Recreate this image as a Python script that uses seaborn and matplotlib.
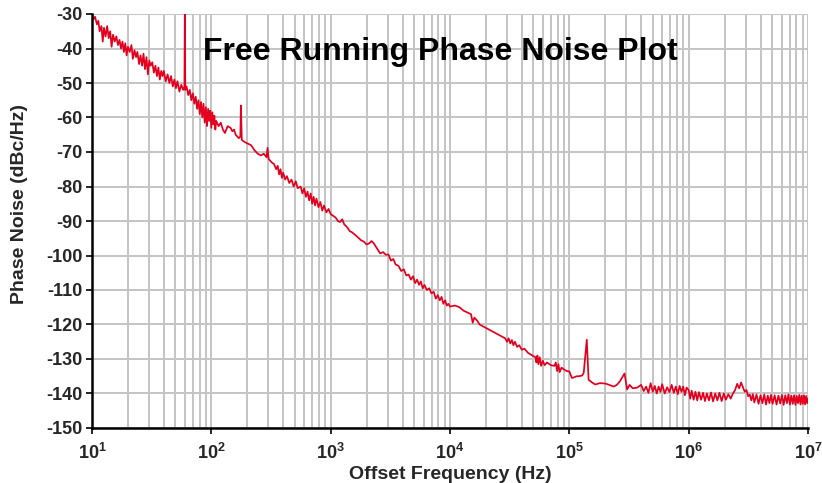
import matplotlib
matplotlib.use("Agg")
import matplotlib.pyplot as plt
import numpy as np
import pandas as pd
import seaborn as sns
from matplotlib.ticker import FixedLocator, NullFormatter

# ---------------- data ----------------
freq_hz = [
    10, 10.3, 10.6, 11, 11.3, 11.6, 12, 12.3, 12.6, 13, 13.4, 13.8, 14.2, 14.6, 15, 15.5,
    16, 16.5, 17, 17.5, 18, 18.5, 19, 19.5, 20, 20.7, 21.4, 22, 22.7, 23.4, 24, 24.8,
    25.5, 26.3, 27, 27.8, 28.6, 29.4, 30.2, 31, 32, 33, 34, 35, 36, 37, 38, 39,
    40, 41.5, 43, 44.5, 46, 47.5, 49, 50.5, 52, 54, 56, 58, 59.5, 60, 60.5, 62,
    64, 66, 68, 70, 72, 74, 76, 78, 80, 82, 84, 86, 88, 90, 92, 94,
    96, 98, 100, 102, 104, 106, 108, 110, 115, 120, 125, 130, 137, 145, 150, 155,
    160, 165, 170, 175, 177, 180, 188, 200, 215, 230, 245, 260, 275, 290, 296, 302,
    320, 335, 350, 360, 370, 380, 390, 400, 415, 430, 450, 470, 490, 510, 530, 560,
    580, 600, 620, 640, 660, 680, 700, 720, 740, 760, 790, 820, 850, 880, 920, 960,
    1000, 1050, 1100, 1150, 1200, 1250, 1300, 1350, 1400, 1450, 1500, 1600, 1700, 1800, 1900, 2000,
    2100, 2200, 2300, 2450, 2600, 2750, 2900, 3050, 3200, 3350, 3500, 3700, 3900, 4100, 4300, 4500,
    4700, 4900, 5100, 5300, 5500, 5700, 5900, 6100, 6400, 6700, 7000, 7300, 7600, 7900, 8200, 8500,
    8800, 9100, 9400, 9700, 10000, 11000, 12000, 13000, 14000, 15000, 15500, 16000, 17000, 17700, 29000, 30000,
    31000, 32000, 33000, 34000, 35000, 36500, 38000, 40000, 42000, 45000, 48000, 52000, 53000, 54000, 55000, 56500,
    58000, 60000, 62000, 65000, 70000, 75000, 77000, 79000, 81000, 83000, 86000, 90000, 95000, 100000, 105000, 110000,
    115000, 120000, 128000, 132000, 140000, 145000, 155000, 165000, 180000, 200000, 220000, 235000, 250000, 265000, 290000, 305000,
    320000, 340000, 370000, 400000, 420000, 440000, 460000, 480000, 500000, 520000, 540000, 560000, 580000, 600000, 630000, 660000,
    690000, 720000, 750000, 780000, 810000, 840000, 870000, 900000, 930000, 960000,
]

phase_noise_dbc = [
    -30, -31.5, -30.8, -33, -32, -35, -33.5, -38, -34, -36.5, -33.5, -37, -35, -39.5, -36, -38,
    -36.5, -39, -37.5, -40, -38, -41, -38.5, -42, -39.5, -41, -39, -43, -40.5, -42.5, -41, -44.5,
    -42, -45, -41.5, -46, -42.5, -47.5, -43.5, -45, -44, -47, -45, -48, -45.5, -49, -46.5, -48,
    -46.5, -49.5, -47.5, -50, -48, -51, -49, -51.5, -49.5, -52.5, -50.5, -52, -51, -28, -52, -51,
    -53.5, -52, -55, -53, -56, -54, -57.5, -55, -59, -55.5, -60, -56, -61.5, -57, -62.5, -57.5,
    -61, -58, -63, -58.5, -62, -59.5, -63.5, -61, -62.5, -61.5, -63.5, -64.5, -62.5, -63, -64, -63.5,
    -65, -65.5, -66, -65.5, -56.5, -66.5, -67, -67.5, -68, -69.5, -70.5, -71, -70.5, -71.5, -68.8, -72,
    -73, -73.5, -75, -74, -76.5, -75, -77.5, -76, -78, -77, -79, -78, -80, -78.5, -80.5, -80,
    -82, -80.5, -83, -81.5, -84, -82, -85, -83, -85.5, -83.5, -86, -84.5, -87, -85.5, -87.5, -86.5,
    -88, -88.5, -89, -90, -90.3, -89.5, -91, -91.5, -92.2, -93, -93.2, -94, -94.8, -95.6, -96, -96.8,
    -96.5, -95.8, -96.5, -98, -99.4, -99, -99.8, -99.7, -101.5, -101, -102.6, -103, -104.5, -104, -105.8, -105.5,
    -107, -106, -108, -107, -108.5, -107.5, -109.5, -108.5, -110, -109.5, -111, -110.5, -112.5, -111.5, -113, -112,
    -114, -113, -114.5, -114, -114.8, -114.5, -115, -116, -116.5, -117, -119.5, -118, -119, -120, -124, -125,
    -124, -125.5, -124.5, -126, -125, -126.5, -126, -127.3, -127, -128.2, -128.8, -129.5, -131, -129, -131.5, -129.5,
    -132, -130.5, -131.8, -131, -131.8, -132, -131, -133.5, -131.5, -133.8, -132.5, -133, -133.5, -133.6, -135.5, -135.3,
    -135, -135, -134.8, -134, -124.4, -136, -136.8, -137.4, -137, -137.1, -137.6, -138, -137.5, -136.5, -134.2, -138.8,
    -137.5, -138.5, -138.3, -137.5, -139.3, -138, -139.8, -137, -139.5, -137.8, -140, -138, -139.5, -137.3, -140, -138.2,
    -139.6, -137.5, -139.8, -138, -140.2, -137.8, -139.5, -138, -140.5, -138.3,
]

# noise floor above 1 MHz, including the bump near 2.7 MHz
floor_freq_hz = [
    1000000, 1030000, 1060000, 1100000, 1140000, 1180000, 1220000, 1270000, 1320000, 1370000,
    1420000, 1480000, 1540000, 1600000, 1670000, 1740000, 1810000, 1890000, 1970000, 2050000,
    2150000, 2250000, 2350000, 2450000, 2550000, 2650000, 2750000, 2850000, 2950000, 3050000,
    3150000, 3250000, 3350000, 3450000, 3550000, 3700000, 3850000, 4000000, 4150000, 4300000,
    4450000, 4600000, 4750000, 4900000, 5050000, 5250000, 5450000, 5650000, 5850000, 6050000,
    6250000, 6450000, 6650000, 6850000, 7050000, 7250000, 7450000, 7650000, 7850000, 8050000,
    8250000, 8450000, 8650000, 8850000, 9050000, 9250000, 9450000, 9650000, 9850000, 10000000,
]
floor_pn_dbc = [
    -139, -141.5, -139.2, -141.8, -139.5, -142, -139.6, -141.8, -139.8, -142.2,
    -140, -142, -139.7, -142.3, -140, -142, -139.8, -142.2, -140, -141.8,
    -140.2, -141.5, -140, -139, -137.2, -138.5, -136.8, -138.2, -139.5, -139,
    -140.8, -140.3, -142, -140.2, -142.6, -140.3, -143, -140.5, -142.8, -140.3,
    -143.2, -140.6, -142.8, -140.4, -143, -140.5, -143.2, -140.6, -142.9, -140.4,
    -143.3, -140.5, -142.8, -140.3, -143.2, -140.6, -143, -140.5, -143.3, -140.7,
    -142.8, -140.4, -143.2, -140.6, -143, -140.5, -143.2, -140.7, -142.8, -141.5,
]

y_ticks = list(range(-150, -29, 10))
x_decades = [1, 2, 3, 4, 5, 6, 7]
title_text = "Free Running Phase Noise Plot"
x_label = "Offset Frequency (Hz)"
y_label = "Phase Noise (dBc/Hz)"

df = pd.DataFrame({"freq": freq_hz + floor_freq_hz,
                   "pn": phase_noise_dbc + floor_pn_dbc})

# ---------------- style ----------------
sns.set_theme(style="white")
plt.rcParams["font.family"] = ["Liberation Sans", "DejaVu Sans"]
plt.rcParams["mathtext.fontset"] = "custom"
plt.rcParams["mathtext.rm"] = "Liberation Sans"
plt.rcParams["mathtext.bf"] = "Liberation Sans:bold"
plt.rcParams["mathtext.it"] = "Liberation Sans:italic"

fig = plt.figure(figsize=(8.22, 4.83), dpi=100)
ax = fig.add_axes([92 / 822, 1 - 428 / 483, 716 / 822, 414 / 483])

sns.lineplot(data=df, x="freq", y="pn", ax=ax, color="#E3001E", linewidth=1.25,
             sort=False, estimator=None, zorder=3)

ax.set_xscale("log")
ax.set_xlim(10, 1e7)
ax.set_ylim(-150, -30)

# grid
grid_color = "#C4C4C4"
major_x = [10.0 ** d for d in x_decades]
minor_x = [m * 10.0 ** d for d in x_decades[:-1] for m in range(2, 10)]
ax.xaxis.set_major_locator(FixedLocator(major_x))
ax.xaxis.set_minor_locator(FixedLocator(minor_x))
ax.xaxis.set_minor_formatter(NullFormatter())
ax.set_xticklabels([r"$\mathbf{10^{%d}}$" % d for d in x_decades])
ax.set_yticks(y_ticks)
ax.set_yticklabels([str(v) for v in y_ticks])

ax.grid(True, which="major", axis="both", color=grid_color, linewidth=1.4, zorder=0)
ax.grid(True, which="minor", axis="x", color=grid_color, linewidth=1.4, zorder=0)
ax.set_axisbelow(True)

for s in ["top", "right"]:
    ax.spines[s].set_visible(False)
for s in ["left", "bottom"]:
    ax.spines[s].set_color("black")
    ax.spines[s].set_linewidth(1.8)
    ax.spines[s].set_zorder(4)

ax.tick_params(axis="y", which="major", direction="out", length=4, width=1.2,
               color="black", labelsize=13, pad=3, left=True)
ax.tick_params(axis="x", which="major", direction="out", length=4, width=1.2,
               color="black", labelsize=13, pad=7, bottom=True)
ax.tick_params(axis="x", which="minor", length=0)
for lab in ax.get_yticklabels():
    lab.set_fontweight("bold")

ax.set_xlabel(x_label, fontsize=14, fontweight="bold", labelpad=0)
ax.set_ylabel(y_label, fontsize=14, fontweight="bold")
ax.yaxis.set_label_coords(-0.09, 0.54)
ax.xaxis.set_label_coords(0.5, -0.092)

ax.text(0.155, 0.908, title_text, transform=ax.transAxes, fontsize=23,
        fontweight="bold", ha="left", va="center", color="black", zorder=5)

fig.savefig("out.png", dpi=100)
